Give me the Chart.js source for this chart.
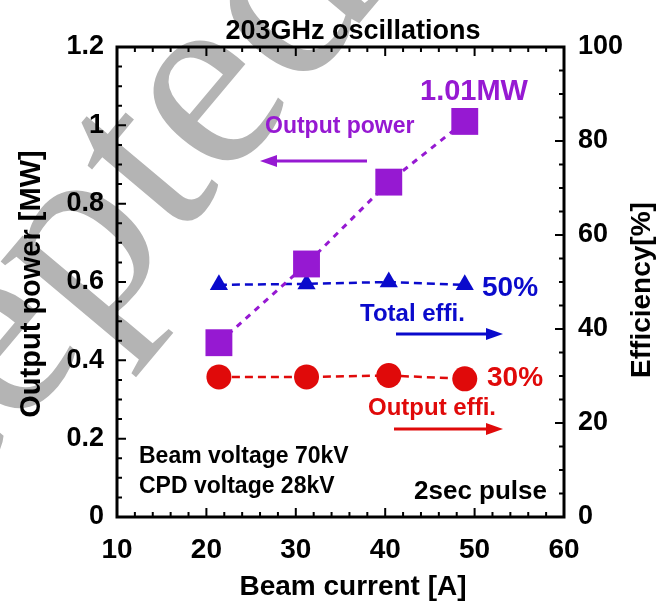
<!DOCTYPE html>
<html>
<head>
    <title>203GHz oscillations</title>
    <script src="https://cdn.jsdelivr.net/npm/chart.js"></script>
    <style>
        body {
            margin: 0;
            padding: 0;
            background-color: #fff;
        }
        .chart-container {
            width: 657px;
            height: 601px;
        }
    </style>
</head>
<body>
    <div class="chart-container">
        <canvas id="oscChart"></canvas>
    </div>

    <script>
        // Measured points (beam current in A)
        const beamCurrent = [21.4, 31.2, 40.4, 48.9];
        const outputPower = [0.445, 0.646, 0.855, 1.01];   // MW
        const totalEffi = [49.4, 49.6, 50.0, 49.4];        // %
        const outputEffi = [29.8, 29.8, 30.1, 29.4];       // %

        const currentTicks = [10, 20, 30, 40, 50, 60];
        const powerTicks = [0, 0.2, 0.4, 0.6, 0.8, 1, 1.2];
        const effiTicks = [0, 20, 40, 60, 80, 100];

        const PURPLE = '#9619d2';
        const BLUE = '#0a0acc';
        const RED = '#e00a0a';
        const FONT = "'Liberation Sans', Arial, sans-serif";

        function toPoints(ys) {
            return beamCurrent.map((x, i) => ({ x: x, y: ys[i] }));
        }

        function fixedTicks(values) {
            return scale => { scale.ticks = values.map(v => ({ value: v })); };
        }

        // grey watermark behind the plot
        const watermark = {
            id: 'watermark',
            beforeDraw(chart) {
                const ctx = chart.ctx;
                const size = 265;
                ctx.save();
                ctx.font = size + "px 'Liberation Serif', 'DejaVu Serif', serif";
                ctx.fillStyle = '#b4b4b4';
                const lead = ctx.measureText('Acce').width + ctx.measureText('p').width / 2;
                ctx.translate(88, 256);
                ctx.rotate(-50 * Math.PI / 180);
                ctx.fillText('Accepted', -lead, size * 0.22);
                ctx.restore();
            }
        };

        // frame with inward ticks on all four sides
        const frameTicks = {
            id: 'frameTicks',
            afterDatasetsDraw(chart) {
                const { ctx, chartArea: a, scales } = chart;
                ctx.save();
                ctx.strokeStyle = '#000';
                ctx.lineWidth = 2;
                ctx.beginPath();
                for (let v = 10; v <= 60; v += 2) {
                    const px = scales.x.getPixelForValue(v);
                    const len = v % 10 === 0 ? 9 : 5;
                    ctx.moveTo(px, a.bottom); ctx.lineTo(px, a.bottom - len);
                    ctx.moveTo(px, a.top); ctx.lineTo(px, a.top + len);
                }
                for (let k = 0; k <= 24; k++) {
                    const py = scales.y.getPixelForValue(k * 0.05);
                    const len = k % 4 === 0 ? 9 : 5;
                    ctx.moveTo(a.left, py); ctx.lineTo(a.left + len, py);
                }
                for (let v = 0; v <= 100; v += 5) {
                    const py = scales.y2.getPixelForValue(v);
                    const len = v % 20 === 0 ? 9 : 5;
                    ctx.moveTo(a.right, py); ctx.lineTo(a.right - len, py);
                }
                ctx.stroke();
                ctx.lineWidth = 3;
                ctx.strokeRect(a.left, a.top, a.right - a.left, a.bottom - a.top);
                ctx.restore();
            }
        };

        function arrow(ctx, x1, y, x2, color) {
            const dir = Math.sign(x2 - x1);
            ctx.strokeStyle = color;
            ctx.fillStyle = color;
            ctx.lineWidth = 3;
            ctx.beginPath();
            ctx.moveTo(x1, y);
            ctx.lineTo(x2 - dir * 12, y);
            ctx.stroke();
            ctx.beginPath();
            ctx.moveTo(x2, y);
            ctx.lineTo(x2 - dir * 17, y - 6);
            ctx.lineTo(x2 - dir * 17, y + 6);
            ctx.closePath();
            ctx.fill();
        }

        // titles, notes and arrows
        const labels = {
            id: 'labels',
            afterDraw(chart) {
                const ctx = chart.ctx;
                ctx.save();
                const text = (s, x, y, size, color, align) => {
                    ctx.font = 'bold ' + size + 'px ' + FONT;
                    ctx.fillStyle = color;
                    ctx.textAlign = align || 'left';
                    ctx.textBaseline = 'alphabetic';
                    ctx.fillText(s, x, y);
                };
                text('203GHz oscillations', 353, 39, 27, '#000', 'center');
                text('Beam current [A]', 353, 595, 28, '#000', 'center');

                ctx.save();
                ctx.translate(40, 284);
                ctx.rotate(-Math.PI / 2);
                text('Output power [MW]', 0, 0, 29, '#000', 'center');
                ctx.restore();

                ctx.save();
                ctx.translate(650, 290);
                ctx.rotate(-Math.PI / 2);
                text('Efficiency[%]', 0, 0, 28, '#000', 'center');
                ctx.restore();

                text('1.01MW', 420, 100, 29, PURPLE);
                text('Output power', 265, 133, 23, PURPLE);
                arrow(ctx, 367, 161, 260, PURPLE);

                text('50%', 482, 296, 28, BLUE);
                text('Total effi.', 360, 321, 24, BLUE);
                arrow(ctx, 396, 334, 503, BLUE);

                text('30%', 487, 386, 28, RED);
                text('Output effi.', 368, 415, 24, RED);
                arrow(ctx, 394, 429, 503, RED);

                text('Beam voltage 70kV', 139, 463, 23, '#000');
                text('CPD voltage 28kV', 139, 493, 23, '#000');
                text('2sec pulse', 547, 499, 26, '#000', 'right');
                ctx.restore();
            }
        };

        const tickFont = { family: FONT, size: 27, weight: 'bold' };

        new Chart(document.getElementById('oscChart'), {
            type: 'line',
            data: {
                datasets: [
                    {
                        label: 'Output power',
                        data: toPoints(outputPower),
                        yAxisID: 'y',
                        borderColor: PURPLE,
                        backgroundColor: PURPLE,
                        borderWidth: 3,
                        borderDash: [6, 6],
                        pointStyle: 'rect',
                        pointRadius: 19,
                        pointBorderWidth: 0,
                        order: 0
                    },
                    {
                        label: 'Total effi.',
                        data: toPoints(totalEffi),
                        yAxisID: 'y2',
                        borderColor: BLUE,
                        backgroundColor: BLUE,
                        borderWidth: 2.5,
                        borderDash: [8, 5],
                        pointStyle: 'triangle',
                        pointRadius: 10.5,
                        pointBorderWidth: 0,
                        order: 1
                    },
                    {
                        label: 'Output effi.',
                        data: toPoints(outputEffi),
                        yAxisID: 'y2',
                        borderColor: RED,
                        backgroundColor: RED,
                        borderWidth: 2.5,
                        borderDash: [8, 5],
                        pointStyle: 'circle',
                        pointRadius: 12.5,
                        pointBorderWidth: 0,
                        order: 2
                    }
                ]
            },
            options: {
                responsive: true,
                maintainAspectRatio: false,
                animation: false,
                layout: { padding: { top: 47, left: 0, right: 0, bottom: 0 } },
                plugins: {
                    legend: { display: false },
                    tooltip: { enabled: false }
                },
                scales: {
                    x: {
                        type: 'linear',
                        min: 10,
                        max: 60,
                        afterBuildTicks: fixedTicks(currentTicks),
                        afterFit: s => { s.height = 84; },
                        grid: { display: false, drawTicks: false },
                        border: { display: false },
                        ticks: { font: { family: FONT, size: 28, weight: 'bold' }, color: '#000', padding: 16, maxRotation: 0 }
                    },
                    y: {
                        position: 'left',
                        min: 0,
                        max: 1.2,
                        afterBuildTicks: fixedTicks(powerTicks),
                        afterFit: s => { s.width = 117; },
                        grid: { display: false, drawTicks: false },
                        border: { display: false },
                        ticks: { font: tickFont, color: '#000', padding: 13, callback: v => String(v) }
                    },
                    y2: {
                        position: 'right',
                        min: 0,
                        max: 100,
                        afterBuildTicks: fixedTicks(effiTicks),
                        afterFit: s => { s.width = 93; },
                        grid: { display: false, drawTicks: false },
                        border: { display: false },
                        ticks: { font: tickFont, color: '#000', padding: 14 }
                    }
                }
            },
            plugins: [watermark, frameTicks, labels]
        });
    </script>
</body>
</html>
